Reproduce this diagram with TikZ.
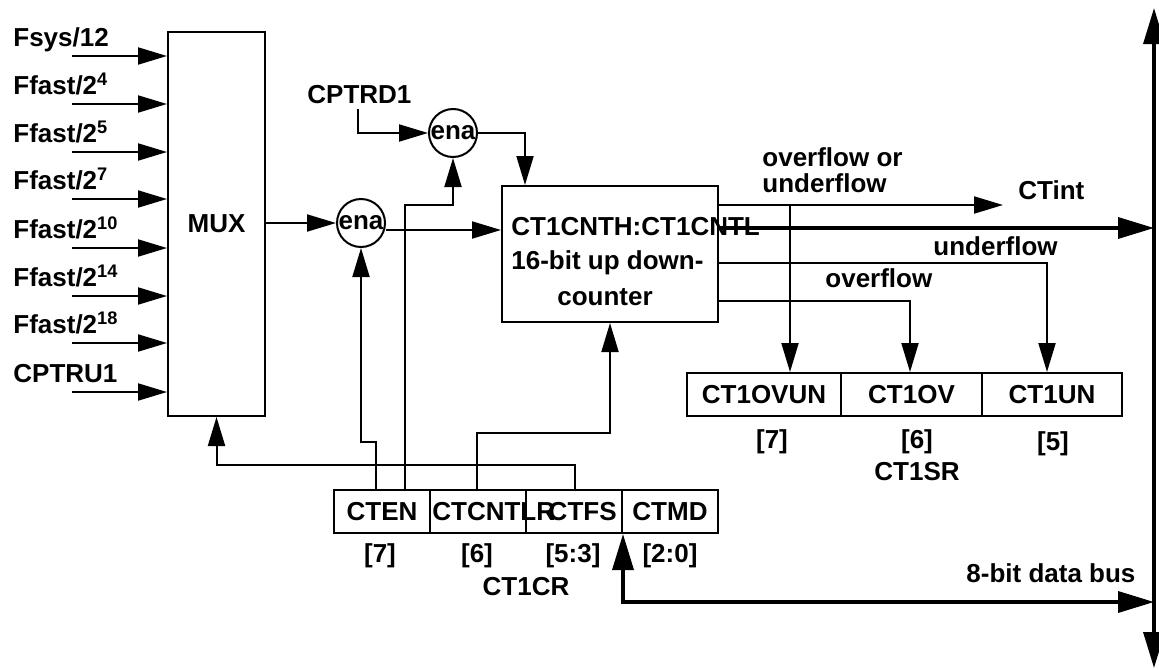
\documentclass[tikz,border=0pt]{standalone}
\usepackage{fontspec}
\setmainfont{Liberation Sans}
\usepackage{tikz}
\usetikzlibrary{shapes,arrows.meta,positioning,calc}

\tikzset{
	wire/.style={line width=1pt},
	arr/.style={wire, -{Triangle[length=14.5pt,width=8.5pt]}},
	bus/.style={line width=1.75pt, -{Triangle[length=18pt,width=10.5pt]}},
	dbus/.style={line width=1.75pt, {Triangle[length=18pt,width=10.5pt]}-{Triangle[length=18pt,width=10.5pt]}},
	blk/.style={draw, rectangle, line width=1pt, inner sep=0pt},
	bitbox/.style={blk, minimum width=48pt, minimum height=21.5pt},
	enab/.style={draw, circle, line width=1pt, minimum size=24pt, inner sep=0pt},
	txt/.style={inner sep=0pt}
}

\begin{document}
\begin{tikzpicture}[x=0.5pt, y=-0.5pt, font=\bfseries\fontsize{13}{13}\selectfont]
	\useasboundingbox (0,0) rectangle (1159,669);

	\node[blk, minimum width=48.5pt, minimum height=192pt] (mux) at (216.5,224) {MUX};
	\foreach \y/\t [count=\i] in {56/{Fsys/12}, 104/{Ffast/2\textsuperscript{4}}, 152/{Ffast/2\textsuperscript{5}}, 199/{Ffast/2\textsuperscript{7}}, 248/{Ffast/2\textsuperscript{10}}, 296/{Ffast/2\textsuperscript{14}}, 343/{Ffast/2\textsuperscript{18}}, 392/{CPTRU1}} {
		\node[txt, anchor=base west] (in\i) at (13,\y-10) {\t};
		\coordinate (s\i) at (72,\y);
		\draw[arr] (s\i) -- (s\i -| mux.west);
	}

	\node[enab] (ena1) at (453,133) {\makebox[0pt]{ena}};
	\node[enab] (ena2) at (361,223) {\makebox[0pt]{ena}};
	\node[txt, anchor=base west] (rd) at (307,103) {CPTRD1};
	\coordinate (rdin) at (358,109);

	\node[blk, minimum width=108pt, minimum height=68pt] (cnt) at (610,254) {};
	\node[txt, anchor=west] (cnt1) at (511,227) {CT1CNTH:CT1CNTL};
	\node[txt, anchor=west] (cnt2) at (511,263) {16-bit up down-};
	\node[txt] (cnt3) at (605,297) {counter};

	\node[bitbox] (en) at (382,511.5) {CTEN};
	\node[bitbox] (cntlr) at (478,511.5) {};
	\node[bitbox] (fs) at (574,511.5) {};
	\node[bitbox] (md) at (670,511.5) {CTMD};
	\node[txt, anchor=west] (cntlrt) at (432,512) {CTCNTLR};
	\node[txt, anchor=east] (fst) at (617,512) {CTFS};
	\node[txt, anchor=base] (b7) at (380,562) {[7]};
	\node[txt, anchor=base] (b6) at (477,562) {[6]};
	\node[txt, anchor=base] (b53) at (573,562) {[5:3]};
	\node[txt, anchor=base] (b20) at (670,562) {[2:0]};
	\node[txt, anchor=base] (crname) at (526,595) {CT1CR};

	\node[blk, minimum width=77pt, minimum height=21.5pt] (ovun) at (764,394.5) {CT1OVUN};
	\node[blk, minimum width=70.5pt, minimum height=21.5pt] (ov) at (911.5,394.5) {CT1OV};
	\node[blk, minimum width=70pt, minimum height=21.5pt] (un) at (1052,394.5) {CT1UN};
	\node[txt, anchor=base] (s7) at (772,448) {[7]};
	\node[txt, anchor=base] (s6) at (917,448) {[6]};
	\node[txt, anchor=base] (s5) at (1053,450) {[5]};
	\node[txt, anchor=base] (srname) at (917,480) {CT1SR};

	\node[txt, anchor=west, align=left] (ovunl) at (762,170) {overflow or\\underflow};
	\node[txt, anchor=base west] (unl) at (933,255) {underflow};
	\node[txt, anchor=base west] (ovl) at (825,287) {overflow};
	\node[txt, anchor=base west] (ctint) at (1018,199) {CTint};
	\node[txt, anchor=base west] (busl) at (966,582) {8-bit data bus};

	\coordinate (busT) at (1154,8);
	\coordinate (busB) at (1154,668);
	\coordinate (j1) at (790,205);

	\draw[arr] (rdin) |- (ena1.west);
	\draw[arr] (ena1.east) -| ([xshift=12pt]cnt.north west);
	\draw[arr] (mux.east |- ena2.west) -- (ena2.west);
	\draw[arr] ([yshift=-3.5pt]ena2.east) -- ([yshift=-3.5pt]ena2.east -| cnt.west);

	\draw[arr] ([xshift=-3pt]en.north) -- ++(0,-47) -| (ena2.south);
	\draw[arr] ([xshift=11.5pt]en.north) -- ++(0,-284) -| (ena1.south);
	\draw[arr] ([xshift=-0.5pt]cntlr.north) -- ++(0,-56) -| (cnt.south);
	\draw[arr] ([xshift=0.5pt]fs.north) -- ++(0,-24) -| (mux.south);

	\draw[arr] (cnt.east |- j1) -- ([xshift=-7.5pt]ctint.west |- j1);
	\draw[arr] (j1) -- (j1 |- ovun.north);
	\draw[bus] (cnt.east |- 0,228) -- (busT |- 0,228);
	\draw[arr] (cnt.east |- 0,263) -| ([xshift=-2.5pt]un.north);
	\draw[arr] (cnt.east |- 0,301) -| ([xshift=-0.75pt]ov.north);

	\draw[dbus] (busT) -- (busB);
	\draw[dbus] (fs.south east) |- (busB |- 0,602);
\end{tikzpicture}
\end{document}
